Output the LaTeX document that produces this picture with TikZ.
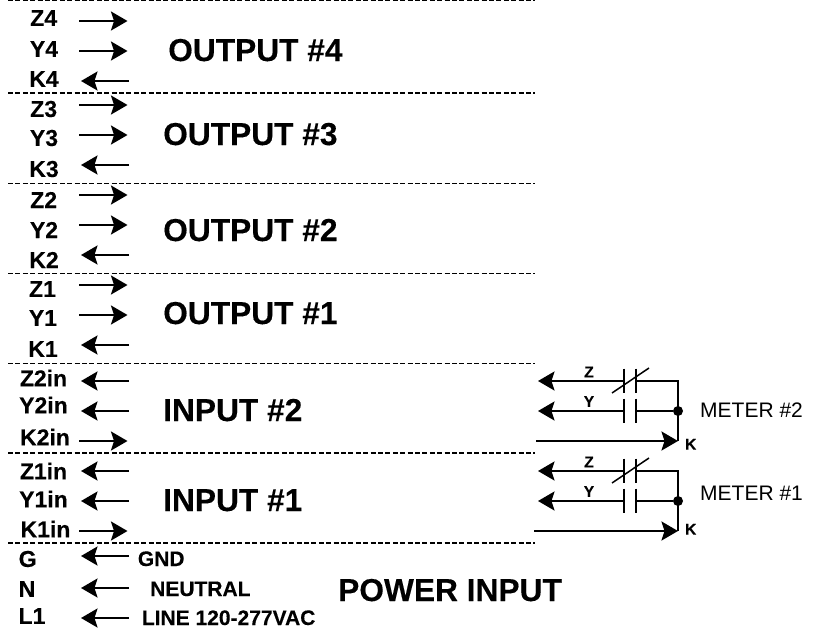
\documentclass[tikz,border=0pt]{standalone}
\usepackage{fontspec}
\setmainfont[BoldFeatures={FakeBold=0.25}]{Liberation Sans}
\usetikzlibrary{arrows.meta}
\tikzset{
  x=1pt,y=-1pt,
  wire/.style={line width=2pt},
  arrowwire/.style={wire,-{Stealth[length=16.5pt,width=19pt,inset=3pt]}},
  sep/.style={line width=1.35pt,dash pattern=on 5pt off 2.4pt},
  pin/.style={anchor=center,inner sep=0pt,font=\fontsize{23}{23}\selectfont\bfseries},
  head/.style={anchor=base west,inner sep=0pt,font=\fontsize{31.7}{32}\selectfont\bfseries},
  note/.style={anchor=base west,inner sep=0pt,font=\fontsize{21}{21}\selectfont\bfseries},
  tiny/.style={anchor=center,inner sep=0pt,font=\fontsize{15.5}{16}\selectfont\bfseries},
  meter/.style={anchor=base west,inner sep=0pt,font=\fontsize{21}{21}\selectfont},
  contact/.style={line width=1.5pt},
}
\begin{document}
\begin{tikzpicture}
\useasboundingbox (0,0) rectangle (817,638);
% separators
\foreach \n/\y in {a/0.8,b/93,c/183.5,d/273.5,e/363.5,f/453,g/543}{
  \coordinate (s\n l) at (8,\y);
  \coordinate (s\n r) at (535,\y);
  \draw[sep] (s\n l) -- (s\n r);
}
% pins with outgoing arrows (left to right)
\foreach \n/\t/\lx/\ly/\ay in {
  Zf/Z4/43.7/18/21, Yf/Y4/44/49/51,
  Zt/Z3/43.7/109/105, Yt/Y3/44/138/135,
  Zd/Z2/43.7/200/195, Yd/Y2/44/230/225,
  Zo/Z1/42.5/289/285, Yo/Y1/43/318/315,
  Kb/K2in/45/437/441, Ka/K1in/45.5/529/531}{
  \node[pin] (\n) at (\lx,\ly) {\t};
  \coordinate (\n a) at (79,\ay);
  \coordinate (\n b) at (127.5,\ay);
  \draw[arrowwire] (\n a) -- (\n b);
}
% pins with incoming arrows (right to left)
\foreach \n/\t/\lx/\ly/\ay in {
  Kf/K4/44/79/81, Kt/K3/44/169/165, Kd/K2/44/260/255, Ko/K1/43/349/345,
  Zb/Z2in/43.5/378/381, Yb/Y2in/43.5/405/411,
  Za/Z1in/43.5/471/471, Ya/Y1in/43.5/499/501,
  G/G/27.7/559/556, N/N/27/589/588, L/L1/32/616/618}{
  \node[pin] (\n) at (\lx,\ly) {\t};
  \coordinate (\n a) at (129,\ay);
  \coordinate (\n b) at (81,\ay);
  \draw[arrowwire] (\n a) -- (\n b);
}
% section titles
\node[head] (o4) at (168,61) {OUTPUT \#4};
\node[head] (o3) at (163,145) {OUTPUT \#3};
\node[head] (o2) at (163,241) {OUTPUT \#2};
\node[head] (o1) at (163,324) {OUTPUT \#1};
\node[head] (i2) at (163,421) {INPUT \#2};
\node[head] (i1) at (163,511) {INPUT \#1};
\node[head] (pw) at (338,601) {POWER INPUT};
% power notes
\node[note] (gnd) at (137.7,566) {GND};
\node[note] (neu) at (150,596) {NEUTRAL};
\node[note] (lin) at (141.7,625) {LINE 120-277VAC};
% meters
\foreach \m/\yo/\t/\kx/\mb/\ky in {two/0/2/536/417/444.3, one/90/1/534/500/439.3}{
  \begin{scope}[yshift=-\yo pt]
    \coordinate (\m Zend) at (538,381);
    \coordinate (\m Zl) at (624,381);
    \coordinate (\m Zr) at (636,381);
    \coordinate (\m cor) at (678,381);
    \coordinate (\m Yend) at (538,411);
    \coordinate (\m Yl) at (624,411);
    \coordinate (\m Yr) at (636,411);
    \coordinate (\m K) at (678,441);
    \coordinate (\m Ks) at (\kx,441);
    \node[circle,fill=black,inner sep=0pt,minimum size=10pt] (\m dot) at (678,411) {};
    \draw[arrowwire] (\m Zl) -- (\m Zend);
    \draw[wire] (\m Zr) -- (\m cor) -- (\m K);
    \draw[arrowwire] (\m Yl) -- (\m Yend);
    \draw[wire] (\m Yr) -- (\m dot);
    \draw[arrowwire] (\m Ks) -- (\m K);
    \draw[contact] (624,368.5) -- (624,393) (636,368.5) -- (636,393);
    \draw[contact] (612,393) -- (649,368);
    \draw[contact] (624,398.5) -- (624,423) (636,398.5) -- (636,423);
    \node[tiny] (\m Zt) at (589,372) {Z};
    \node[tiny] (\m Yt) at (589,401.5) {Y};
    \node[tiny] (\m Kt) at (690.7,\ky) {K};
  \end{scope}
  \node[meter] (\m lab) at (700,\mb) {METER \#\t};
}
\end{tikzpicture}
\end{document}
